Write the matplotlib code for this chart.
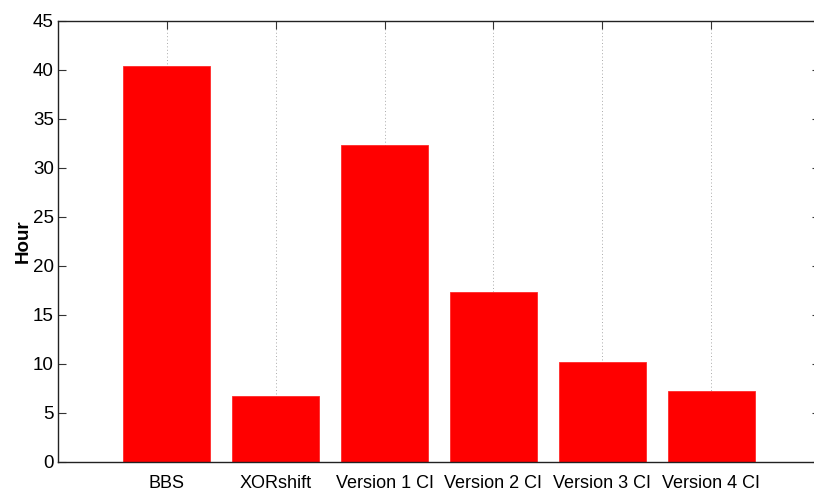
import matplotlib
matplotlib.use("Agg")
import matplotlib.pyplot as plt
from matplotlib import font_manager

categories = ["BBS", "XORshift", "Version 1 CI", "Version 2 CI", "Version 3 CI", "Version 4 CI"]
hours = [40.37, 6.72, 32.30, 17.32, 10.13, 7.20]
yticks = [0, 5, 10, 15, 20, 25, 30, 35, 40, 45]

names = {f.name for f in font_manager.fontManager.ttflist}
fam = [n for n in ["Liberation Sans Narrow", "Liberation Sans", "DejaVu Sans"] if n in names]
plt.rcParams['font.family'] = fam

fig = plt.figure(figsize=(8.14, 4.93), dpi=100)
ax = fig.add_axes([58/814, 1-461.5/493, (820-58)/814, (461.5-21)/493])

x = list(range(1, len(categories)+1))
ax.bar(x, hours, width=0.8, color="#ff0000", edgecolor="#ff2a2a", linewidth=0.6, zorder=2)

ax.set_xlim(0, 7)
ax.set_ylim(0, 45)
ax.set_xticks(x)
ax.set_xticklabels(categories, fontsize=13)
ax.set_yticks(yticks)
ax.set_yticklabels([str(v) for v in yticks], fontsize=13.5)
ax.tick_params(direction="in", length=6, width=0.8, top=True, right=True, color="#333333")
ax.tick_params(axis="y", pad=3)
ax.tick_params(axis="x", pad=10)
ax.xaxis.grid(True, linestyle=(0, (1, 2.5)), color="#aaaaaa", linewidth=0.7, zorder=0)
ax.set_axisbelow(True)
for s in ax.spines.values():
    s.set_linewidth(1.0)
    s.set_color("#222222")
ax.set_ylabel("Hour", fontsize=13.5, fontweight="bold")
ax.yaxis.set_label_coords((32 - 58) / 762, 0.5)

fig.savefig("out.png", dpi=100)
